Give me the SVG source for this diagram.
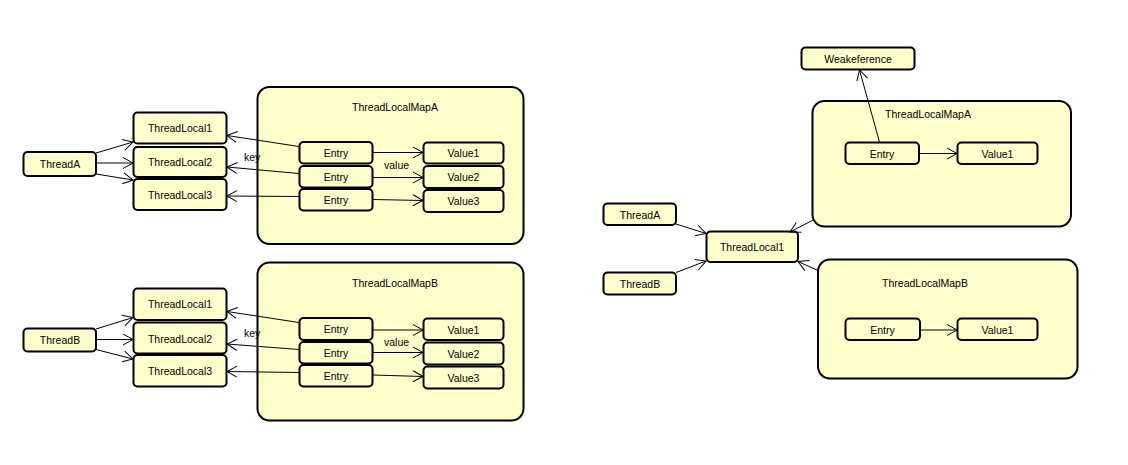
<svg xmlns="http://www.w3.org/2000/svg" width="1128" height="465" viewBox="0 0 1128 465">
<defs>
<marker id="arr" markerWidth="12" markerHeight="12" refX="11" refY="6" markerUnits="userSpaceOnUse" orient="auto" overflow="visible">
<path d="M1,0.5 L11,6 L1,11.5" fill="none" stroke="#000" stroke-width="1"/>
</marker>
<style>
.n{fill:#FFFFCC;stroke:#000;stroke-width:2}
.t{font-family:"Liberation Sans",Arial,sans-serif;font-size:10.5px;fill:#000;text-anchor:middle;dominant-baseline:central}
.l{font-family:"Liberation Sans",Arial,sans-serif;font-size:10.5px;fill:#000}
.c{stroke:#000;stroke-width:1;fill:none;marker-end:url(#arr)}
</style>
</defs>
<rect width="1128" height="465" fill="#fff"/>

<!-- Left top -->
<g id="mapA"><rect class="n" x="257.5" y="87" width="266" height="157" rx="12"/><text class="t" x="395" y="107">ThreadLocalMapA</text></g>
<g id="threadA"><rect class="n" x="23.5" y="152" width="72.5" height="24" rx="4"/><text class="t" x="60" y="164">ThreadA</text></g>
<g id="tlA1"><rect class="n" x="133.5" y="112.5" width="93" height="31" rx="4"/><text class="t" x="180" y="128">ThreadLocal1</text></g>
<g id="tlA2"><rect class="n" x="133.5" y="147" width="93" height="30" rx="4"/><text class="t" x="180" y="162">ThreadLocal2</text></g>
<g id="tlA3"><rect class="n" x="133.5" y="179" width="93" height="31" rx="4"/><text class="t" x="180" y="195">ThreadLocal3</text></g>
<g id="entA1"><rect class="n" x="299.5" y="142" width="73" height="21.5" rx="4"/><text class="t" x="336" y="152.5">Entry</text></g>
<g id="entA2"><rect class="n" x="299.5" y="166" width="73" height="21.5" rx="4"/><text class="t" x="336" y="177">Entry</text></g>
<g id="entA3"><rect class="n" x="299.5" y="189" width="73" height="21.5" rx="4"/><text class="t" x="336" y="199.5">Entry</text></g>
<g id="valA1"><rect class="n" x="423.5" y="142.5" width="80" height="21" rx="4"/><text class="t" x="463.5" y="153">Value1</text></g>
<g id="valA2"><rect class="n" x="423.5" y="166" width="80" height="22" rx="4"/><text class="t" x="463.5" y="177">Value2</text></g>
<g id="valA3"><rect class="n" x="423.5" y="190" width="80" height="22" rx="4"/><text class="t" x="463.5" y="201">Value3</text></g>

<!-- Left bottom -->
<g id="mapB"><rect class="n" x="257.5" y="262.5" width="266" height="158" rx="12"/><text class="t" x="395" y="283">ThreadLocalMapB</text></g>
<g id="threadB"><rect class="n" x="23.5" y="328.5" width="72.5" height="23" rx="4"/><text class="t" x="60" y="340">ThreadB</text></g>
<g id="tlB1"><rect class="n" x="133.5" y="288.5" width="93" height="31.5" rx="4"/><text class="t" x="180" y="304">ThreadLocal1</text></g>
<g id="tlB2"><rect class="n" x="133.5" y="322.5" width="93" height="31" rx="4"/><text class="t" x="180" y="338.5">ThreadLocal2</text></g>
<g id="tlB3"><rect class="n" x="133.5" y="355" width="93" height="31.5" rx="4"/><text class="t" x="180" y="371">ThreadLocal3</text></g>
<g id="entB1"><rect class="n" x="299.5" y="318" width="73" height="22" rx="4"/><text class="t" x="336" y="329">Entry</text></g>
<g id="entB2"><rect class="n" x="299.5" y="342" width="73" height="21.5" rx="4"/><text class="t" x="336" y="352.5">Entry</text></g>
<g id="entB3"><rect class="n" x="299.5" y="365" width="73" height="21.5" rx="4"/><text class="t" x="336" y="375.5">Entry</text></g>
<g id="valB1"><rect class="n" x="423.5" y="318.5" width="80" height="21.5" rx="4"/><text class="t" x="463.5" y="329.5">Value1</text></g>
<g id="valB2"><rect class="n" x="423.5" y="342.5" width="80" height="22" rx="4"/><text class="t" x="463.5" y="353.5">Value2</text></g>
<g id="valB3"><rect class="n" x="423.5" y="366.5" width="80" height="22" rx="4"/><text class="t" x="463.5" y="377.5">Value3</text></g>

<!-- Right -->
<g id="weak"><rect class="n" x="801.5" y="47.5" width="113" height="22" rx="4"/><text class="t" x="858" y="58.5">Weakeference</text></g>
<g id="rmapA"><rect class="n" x="812.5" y="101" width="258.5" height="125.5" rx="12"/><text class="t" x="928" y="114">ThreadLocalMapA</text></g>
<g id="rentA"><rect class="n" x="845.5" y="142.5" width="73.5" height="21.5" rx="4"/><text class="t" x="882" y="153.5">Entry</text></g>
<g id="rvalA"><rect class="n" x="957.5" y="142.5" width="80" height="21.5" rx="4"/><text class="t" x="997.5" y="153.5">Value1</text></g>
<g id="rthreadA"><rect class="n" x="603.5" y="203.5" width="72.5" height="21.5" rx="4"/><text class="t" x="640" y="214.5">ThreadA</text></g>
<g id="rthreadB"><rect class="n" x="603.5" y="272.5" width="72.5" height="22" rx="4"/><text class="t" x="640" y="284">ThreadB</text></g>
<g id="rtl1"><rect class="n" x="706.5" y="231.5" width="91.5" height="30.5" rx="4"/><text class="t" x="752" y="247">ThreadLocal1</text></g>
<g id="rmapB"><rect class="n" x="818" y="259.5" width="259.5" height="119" rx="12"/><text class="t" x="925" y="283">ThreadLocalMapB</text></g>
<g id="rentB"><rect class="n" x="845.5" y="318.5" width="74.5" height="21.5" rx="4"/><text class="t" x="882.5" y="329.5">Entry</text></g>
<g id="rvalB"><rect class="n" x="957.5" y="318.5" width="80" height="21.5" rx="4"/><text class="t" x="997.5" y="329.5">Value1</text></g>

<g id="connectors">
<!-- top-left -->
<line class="c" x1="96" y1="153" x2="133" y2="142"/>
<line class="c" x1="96" y1="163" x2="133" y2="163"/>
<line class="c" x1="96" y1="174" x2="133" y2="180"/>
<line class="c" x1="299" y1="146.5" x2="227" y2="135.5"/>
<line class="c" x1="299" y1="173.5" x2="227" y2="167"/>
<line class="c" x1="299" y1="196.5" x2="227" y2="196"/>
<line class="c" x1="373" y1="152.5" x2="423" y2="152.5"/>
<line class="c" x1="373" y1="177.5" x2="423" y2="177.5"/>
<line class="c" x1="373" y1="199.5" x2="423" y2="200.5"/>
<text class="l" x="244" y="161">key</text>
<text class="l" x="384" y="169">value</text>
<!-- bottom-left -->
<line class="c" x1="96" y1="329" x2="133" y2="317.5"/>
<line class="c" x1="96" y1="339.5" x2="133" y2="339.5"/>
<line class="c" x1="96" y1="349.5" x2="133" y2="359"/>
<line class="c" x1="299" y1="322.5" x2="227" y2="311.5"/>
<line class="c" x1="299" y1="349.5" x2="227" y2="344"/>
<line class="c" x1="299" y1="372.5" x2="227" y2="371.5"/>
<line class="c" x1="373" y1="330" x2="423" y2="330"/>
<line class="c" x1="373" y1="352.5" x2="423" y2="352.5"/>
<line class="c" x1="373" y1="375" x2="423" y2="376.5"/>
<text class="l" x="244" y="337">key</text>
<text class="l" x="384" y="346">value</text>
<!-- right -->
<line class="c" x1="879.5" y1="142" x2="859.5" y2="70"/>
<line class="c" x1="919" y1="153.5" x2="957" y2="153.5"/>
<line class="c" x1="813" y1="220" x2="790" y2="232"/>
<line class="c" x1="676" y1="224" x2="706" y2="233.5"/>
<line class="c" x1="676" y1="272.5" x2="706" y2="261"/>
<line class="c" x1="818" y1="270.5" x2="798" y2="261.5"/>
<line class="c" x1="920" y1="330" x2="957" y2="330"/>
</g>
</svg>
